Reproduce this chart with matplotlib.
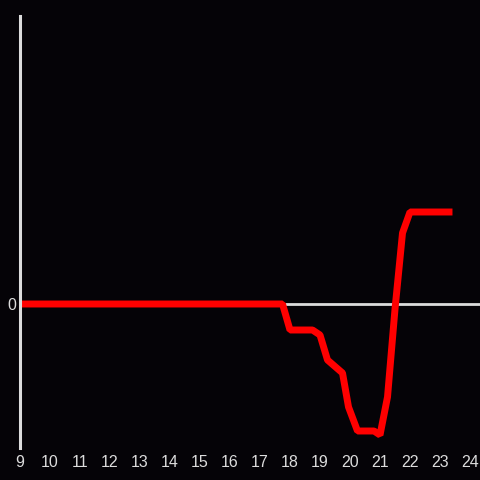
import matplotlib
matplotlib.use("Agg")
import matplotlib.pyplot as plt

# heure de la journée et valeur (unités arbitraires)
hours = [9.0, 17.75, 18.0, 18.75, 19.0, 19.25, 19.75, 19.95, 20.25, 20.5, 20.8, 21.0,
         21.25, 21.5, 21.75, 22.0, 22.5, 23.0, 23.3]
values = [0.0, 0.0, -2.6, -2.6, -3.1, -5.6, -6.9, -10.3, -12.7, -12.7, -12.7, -13.1,
          -9.3, -0.5, 7.1, 9.2, 9.2, 9.2, 9.2]
xticks = list(range(9, 25))

bg = "#050307"
fg = "#dcdcdc"

plt.rcParams["font.family"] = ["Liberation Sans", "DejaVu Sans"]

fig = plt.figure(figsize=(4.8, 4.8), dpi=100, facecolor=bg)
ax = fig.add_axes([20 / 480, 32 / 480, 460 / 480, 432 / 480])
ax.set_facecolor(bg)

ax.axhline(0, color=fg, lw=2, zorder=1)
ax.plot(hours, values, color="#ff0000", lw=5, solid_joinstyle="bevel", zorder=2)

ax.set_xlim(9, 24.333)
ax.set_ylim(-14.4, 28.8)
ax.set_xticks(xticks)
ax.set_yticks([0])

for side in ["top", "right", "bottom"]:
    ax.spines[side].set_visible(False)
ax.spines["left"].set_color(fg)
ax.spines["left"].set_linewidth(2.2)

ax.tick_params(length=0, colors=fg, labelsize=11.5, pad=5)
ax.tick_params(axis="y", pad=3)

fig.savefig("out.png", dpi=100, facecolor=bg)
